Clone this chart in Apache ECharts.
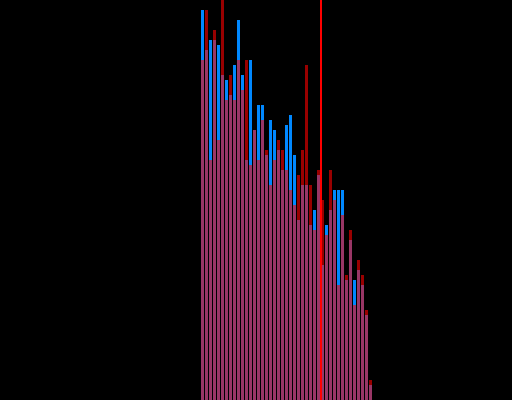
<!DOCTYPE html>
<html>
<head>
<meta charset="utf-8">
<style>
  html, body { margin: 0; padding: 0; background: #000; }
  #chart { width: 512px; height: 400px; }
</style>
<script src="https://cdn.jsdelivr.net/npm/echarts@6/dist/echarts.min.js"></script>
</head>
<body>
<div id="chart"></div>
<script>
const categories = ['1','2','3','4','5','6','7','8','9','10','11','12','13','14','15','16','17','18','19','20','21','22','23','24','25','26','27','28','29','30','31','32','33','34','35','36','37','38','39','40','41','42','43'];
const blueValues = [78,70,72,72,71,65,64,61,67,76,65,48,68,54,59,59,49,56,54,50,46,55,57,49,36,43,43,35,38,45,27,35,38,42,42,42,24,32,24,26,23,17,3];
const redValues  = [68,78,48,74,52,80,60,65,60,68,62,68,47,54,48,56,50,43,48,52,50,46,42,39,45,50,67,43,34,46,40,33,46,40,23,37,25,34,19,28,25,18,4];
const markerPosition = 30.125;
const yMax = 80;

const chart = echarts.init(document.getElementById('chart'), null, { renderer: 'canvas' });
chart.setOption({
  animation: false,
  backgroundColor: '#000000',
  grid: { left: 200.5, right: 139.5, top: 0, bottom: 0, containLabel: false },
  xAxis: [
    { type: 'category', data: categories, show: false, boundaryGap: true },
    { type: 'value', min: 0, max: categories.length, show: false }
  ],
  yAxis: { type: 'value', min: 0, max: yMax, show: false },
  series: [
    {
      type: 'bar', data: blueValues, barWidth: 3, barGap: '-100%',
      itemStyle: { color: '#0088ff' }
    },
    {
      type: 'bar', data: redValues, barWidth: 3, barGap: '-100%',
      itemStyle: { color: '#ff0000', opacity: 0.6 }
    },
    {
      type: 'line', xAxisIndex: 1, data: [],
      markLine: {
        silent: true, symbol: ['none', 'none'], label: { show: false },
        lineStyle: { color: '#ff0000', width: 2, type: 'solid' },
        data: [{ xAxis: markerPosition }]
      }
    }
  ]
});
</script>
</body>
</html>
